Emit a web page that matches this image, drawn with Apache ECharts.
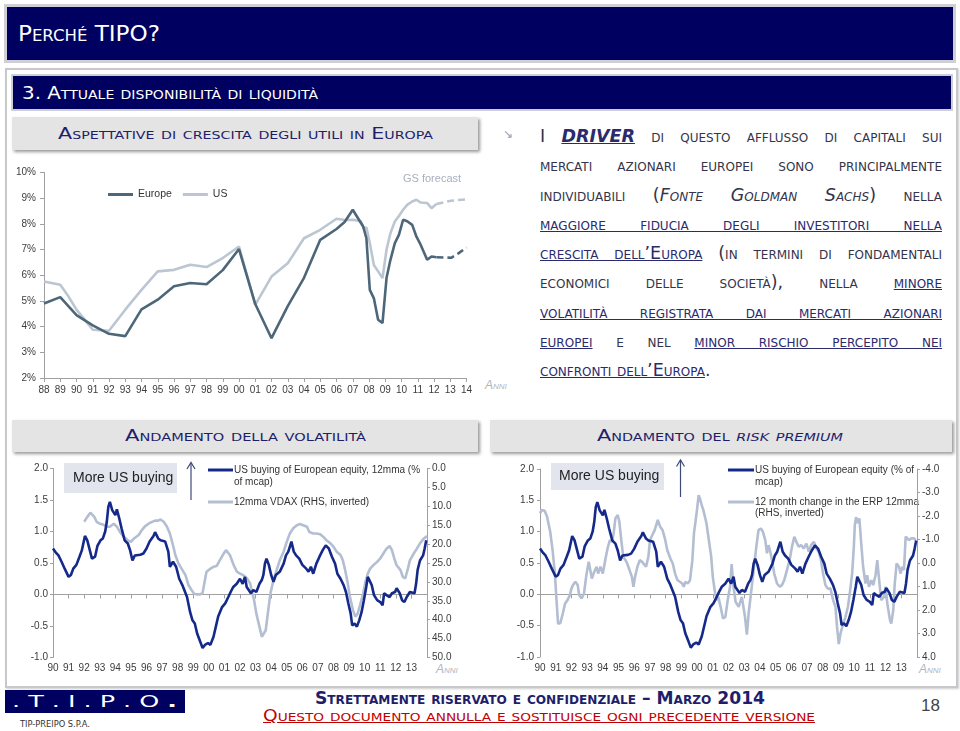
<!DOCTYPE html>
<html><head><meta charset="utf-8">
<script src="https://cdn.jsdelivr.net/npm/echarts/dist/echarts.min.js"></script>
<style>
body{margin:0;width:960px;height:731px;position:relative;overflow:hidden;background:#fff;font-family:'Liberation Sans',Arial,sans-serif}
.abs{position:absolute}
.sc{font-variant:small-caps;white-space:nowrap;line-height:20px}
.hd{font-family:'Liberation Sans Narrow','DejaVu Sans Condensed','Liberation Sans',sans-serif}
.sub{background:#e4e4e4;box-shadow:2px 2px 3px rgba(0,0,0,0.4)}
.para{font-family:'DejaVu Sans',sans-serif;font-size:17.5px;font-variant:small-caps;letter-spacing:0px;color:#34344a;white-space:nowrap;line-height:20px}
.para u{color:#2a2a6c}
.anni{font-style:italic;color:#b0b4c2;font-size:12px}
#c{position:absolute;left:0;top:0;width:960px;height:731px;z-index:5}
</style></head>
<body>
<div class="abs" style="left:4px;top:4px;width:952px;height:59px;background:#cfcfd6"></div>
<div class="abs" style="left:7px;top:7px;width:946px;height:53px;background:#000060"></div>
<div class="abs sc hd" id="t1" style="left:18px;top:24px;font-size:21px;color:#fff">Perché TIPO?</div>

<div class="abs" style="left:5px;top:68px;width:949px;height:616px;border:2px solid #c8c8cc;box-shadow:1px 1px 2px rgba(0,0,0,0.2)"></div>
<div class="abs" style="left:11px;top:74px;width:942px;height:37px;background:#cfcfd6"></div>
<div class="abs" style="left:13px;top:76px;width:938px;height:33px;background:#000060"></div>
<div class="abs sc hd" id="t2" style="left:22px;top:83px;font-size:17px;color:#fff">3. Attuale disponibilità di liquidità</div>

<div class="abs sub" style="left:12px;top:117px;width:466px;height:33px"></div>
<div class="abs sc hd" id="t3" style="left:58px;top:124px;font-size:16px;color:#1e1e6a">Aspettative di crescita degli utili in Europa</div>

<div class="abs sub" style="left:12px;top:420px;width:466px;height:32px"></div>
<div class="abs sc hd" id="t4" style="left:125px;top:426px;font-size:16px;color:#1e1e6a">Andamento della volatilità</div>
<div class="abs sub" style="left:490px;top:420px;width:462px;height:32px"></div>
<div class="abs sc hd" id="t5" style="left:597px;top:426px;font-size:16px;color:#1e1e6a">Andamento del <i>risk premium</i></div>

<div class="abs" style="left:503px;top:127px;font-size:12px;color:#9aa0b4">&#8600;</div>
<div id="para"></div>

<div class="abs sc anni" style="left:485px;top:375px">Anni</div>
<div class="abs sc anni" style="left:436px;top:659px">Anni</div>
<div class="abs sc anni" style="left:919px;top:659px">Anni</div>

<div class="abs" style="left:5px;top:690px;width:180px;height:23px;background:#000060"></div>
<div class="abs hd" id="logo" style="left:12px;top:692px;font-size:16px;line-height:20px;color:#fff;white-space:nowrap">. T . I . P . O <b>.</b></div>
<div class="abs hd" id="tip" style="left:20px;top:718px;font-size:9px;line-height:12px;color:#333;white-space:nowrap">TIP-PREIPO S.P.A.</div>
<div class="abs sc hd" id="f1" style="left:315px;top:688px;font-size:17px;font-weight:bold;color:#1e1e6a">Strettamente riservato e confidenziale – Marzo 2014</div>
<div class="abs sc hd" id="f2" style="left:263px;top:706px;font-size:15px;color:#c00000;text-decoration:underline">Questo documento annulla e sostituisce ogni precedente versione</div>
<div class="abs" style="left:921px;top:696px;font-size:17px;line-height:20px;color:#444;font-family:'Liberation Sans Narrow','Liberation Sans',sans-serif">18</div>

<div id="c"></div>
<script>
// ---------------- DATA ----------------
// Top chart: earnings growth expectations (%)
const europeGrowth = [[1988,4.9],[1989,5.15],[1990,4.45],[1991,4.05],[1992,3.72],[1993,3.63],[1994,4.67],[1995,5.05],[1996,5.57],[1997,5.7],[1998,5.65],[1999,6.2],[2000,7.02],[2001,4.88],[2002,3.55],[2003,4.8],[2004,5.9],[2005,7.38],[2006,7.8],[2006.5,8.07],[2007,8.55],[2007.64,7.9],[2007.84,7.44],[2008.05,5.43],[2008.3,5.1],[2008.56,4.27],[2008.83,4.14],[2009.08,5.9],[2009.32,6.6],[2009.59,7.25],[2009.84,7.57],[2010.1,8.16],[2010.35,8.1],[2010.66,7.96],[2010.92,7.5],[2011.17,7.2],[2011.58,6.6],[2011.85,6.73],[2012.15,6.7]];
const europeForecast = [[2012.15,6.7],[2013.05,6.68],[2013.5,6.85],[2014,7.08]];
const usGrowth = [[1988,5.76],[1989,5.63],[1989.5,5.18],[1990,4.66],[1990.5,4.27],[1991,3.88],[1992,3.84],[1993,4.66],[1994,5.43],[1995,6.15],[1996,6.21],[1997,6.41],[1998,6.32],[1999,6.67],[2000,7.12],[2001,4.85],[2002,5.95],[2003,6.47],[2004,7.44],[2005,7.77],[2006,8.2],[2006.5,8.15],[2007,8.16],[2007.5,8.1],[2007.7,7.8],[2007.84,7.87],[2008.05,7.25],[2008.3,6.4],[2008.56,6.15],[2008.83,5.89],[2009.08,7.0],[2009.32,7.64],[2009.59,8.09],[2009.84,8.31],[2010.1,8.55],[2010.35,8.74],[2010.66,8.87],[2010.92,8.94],[2011.17,8.83],[2011.58,8.81],[2011.85,8.61],[2012.15,8.77]];
const usForecast = [[2012.15,8.77],[2012.6,8.84],[2013.05,8.9],[2013.5,8.93],[2014,8.95]];
const topYTicks = {min:2, max:10, step:1};

// Bottom charts: US buying of European equity (% of mcap, 12mma)
const usBuying = [[1990,0.73],[1990.2,0.66],[1990.35,0.62],[1990.55,0.52],[1990.75,0.41],[1991,0.28],[1991.15,0.31],[1991.3,0.41],[1991.5,0.47],[1991.7,0.6],[1991.85,0.7],[1992.05,0.93],[1992.2,0.86],[1992.5,0.57],[1992.7,0.6],[1992.85,0.77],[1993.05,0.86],[1993.2,0.89],[1993.35,1.0],[1993.45,1.15],[1993.55,1.39],[1993.65,1.47],[1993.8,1.34],[1994,1.26],[1994.1,1.35],[1994.25,1.21],[1994.4,1.05],[1994.6,0.86],[1994.8,0.81],[1994.95,0.7],[1995.1,0.54],[1995.25,0.62],[1995.6,0.63],[1995.8,0.65],[1996,0.73],[1996.2,0.84],[1996.45,0.93],[1996.55,0.99],[1996.75,0.89],[1996.9,0.86],[1997.2,0.84],[1997.4,0.68],[1997.5,0.44],[1997.7,0.52],[1997.9,0.44],[1998.1,0.25],[1998.3,0.15],[1998.6,-0.04],[1998.8,-0.28],[1998.95,-0.41],[1999.1,-0.46],[1999.25,-0.62],[1999.45,-0.75],[1999.6,-0.85],[1999.75,-0.8],[1999.95,-0.77],[2000.1,-0.8],[2000.3,-0.67],[2000.45,-0.51],[2000.6,-0.35],[2000.85,-0.2],[2001.05,-0.14],[2001.25,-0.04],[2001.4,0.04],[2001.57,0.12],[2001.79,0.17],[2002,0.25],[2002.17,0.17],[2002.32,0.28],[2002.43,0.12],[2002.7,0.02],[2002.85,0.07],[2003.05,0.04],[2003.25,0.17],[2003.4,0.23],[2003.5,0.31],[2003.6,0.49],[2003.7,0.57],[2003.85,0.47],[2004,0.31],[2004.15,0.2],[2004.3,0.31],[2004.55,0.36],[2004.8,0.49],[2004.95,0.62],[2005.1,0.68],[2005.3,0.84],[2005.45,0.68],[2005.6,0.62],[2005.8,0.57],[2006,0.47],[2006.25,0.41],[2006.4,0.36],[2006.55,0.44],[2006.7,0.33],[2006.9,0.49],[2007.1,0.6],[2007.3,0.7],[2007.5,0.78],[2007.7,0.73],[2007.9,0.6],[2008.1,0.49],[2008.25,0.33],[2008.45,0.25],[2008.65,0.15],[2008.8,0.04],[2008.95,-0.14],[2009.1,-0.3],[2009.2,-0.49],[2009.35,-0.46],[2009.5,-0.51],[2009.65,-0.41],[2009.8,-0.28],[2009.95,-0.09],[2010.1,0.12],[2010.2,0.28],[2010.3,0.25],[2010.45,0.15],[2010.6,-0.01],[2010.8,-0.09],[2011,-0.12],[2011.15,-0.17],[2011.25,0.02],[2011.4,-0.01],[2011.6,-0.04],[2011.75,0.02],[2011.95,0.04],[2012.05,0.1],[2012.25,0.02],[2012.4,-0.09],[2012.55,-0.12],[2012.7,-0.04],[2012.9,0.04],[2013,0.02],[2013.2,0.02],[2013.3,0.17],[2013.4,0.39],[2013.55,0.54],[2013.75,0.62],[2013.85,0.73],[2013.95,0.86]];
// 12mma VDAX (RHS, inverted)
const vdax = [[1992,14.1],[1992.2,12.8],[1992.4,11.7],[1992.5,11.5],[1992.65,12.8],[1992.8,14.1],[1993,14.6],[1993.2,14.8],[1993.45,15.4],[1993.65,15.4],[1993.9,14.6],[1994.1,15.4],[1994.3,16.8],[1994.5,17.9],[1994.8,19.0],[1995,19.4],[1995.2,18.5],[1995.5,17.6],[1995.7,16.3],[1995.9,15.3],[1996.2,14.4],[1996.55,13.8],[1996.75,13.8],[1996.9,13.5],[1997.1,14.1],[1997.3,15.3],[1997.5,17.2],[1997.7,20.3],[1997.85,22.9],[1998.05,25.1],[1998.25,26.5],[1998.5,28.2],[1998.7,30.9],[1998.9,32.2],[1999.05,33.1],[1999.2,33.3],[1999.45,33.3],[1999.6,32.9],[1999.75,29.5],[1999.85,27.3],[2000.1,26.5],[2000.3,26.0],[2000.5,25.8],[2000.7,24.3],[2000.95,22.5],[2001.1,21.6],[2001.35,22.9],[2001.6,25.6],[2001.8,27.3],[2002,27.8],[2002.2,28.2],[2002.45,29.1],[2002.65,30.4],[2002.75,32.2],[2002.9,34.8],[2003.05,38.4],[2003.25,41.9],[2003.4,44.5],[2003.5,45.0],[2003.65,42.8],[2003.8,37.9],[2003.95,33.1],[2004.15,29.5],[2004.35,26.9],[2004.55,24.3],[2004.8,22.0],[2005,19.4],[2005.2,17.2],[2005.4,15.9],[2005.65,15.0],[2005.85,14.7],[2006.05,15.0],[2006.3,15.4],[2006.45,16.8],[2006.7,17.2],[2006.9,17.2],[2007.15,17.4],[2007.35,18.1],[2007.55,19.0],[2007.8,19.8],[2008,20.7],[2008.2,22.0],[2008.45,22.9],[2008.6,24.3],[2008.75,26.9],[2008.9,30.0],[2009.05,33.9],[2009.25,37.5],[2009.4,39.2],[2009.55,38.4],[2009.7,36.2],[2009.9,33.1],[2010.05,30.0],[2010.2,27.8],[2010.35,26.5],[2010.55,25.6],[2010.8,24.7],[2011,23.8],[2011.2,22.5],[2011.4,21.2],[2011.6,20.5],[2011.75,21.6],[2011.9,23.8],[2012.05,25.6],[2012.3,26.9],[2012.45,28.7],[2012.6,29.1],[2012.75,26.9],[2012.9,24.3],[2013.15,22.5],[2013.35,21.2],[2013.55,19.8],[2013.8,18.5],[2014,17.9]];
// 12 month change in the ERP 12mma (RHS, inverted)
const erpChange = [[1990,-2.11],[1990.1,-2.25],[1990.3,-2.22],[1990.45,-1.97],[1990.65,-1.33],[1990.8,-0.55],[1990.95,0.45],[1991.05,1.58],[1991.15,2.58],[1991.3,2.55],[1991.45,2.15],[1991.6,1.72],[1991.75,1.58],[1991.9,1.37],[1992,1.09],[1992.1,0.94],[1992.25,0.8],[1992.4,0.94],[1992.5,1.37],[1992.65,1.51],[1992.8,1.3],[1992.95,0.52],[1993.1,-0.05],[1993.2,0.3],[1993.3,0.66],[1993.45,0.38],[1993.6,0.16],[1993.7,0.45],[1993.85,0.16],[1994,0.45],[1994.15,-0.12],[1994.3,-0.62],[1994.45,-0.97],[1994.6,-0.9],[1994.7,-1.33],[1994.8,-1.9],[1994.95,-2.04],[1995.05,-1.76],[1995.15,-1.12],[1995.3,-0.26],[1995.45,-0.12],[1995.55,0.02],[1995.7,0.3],[1995.85,0.59],[1995.95,1.01],[1996.05,0.59],[1996.2,0.16],[1996.35,-0.12],[1996.5,-0.05],[1996.6,0.02],[1996.75,0.16],[1996.9,-0.26],[1997,-0.97],[1997.15,-1.19],[1997.3,-1.4],[1997.4,-1.33],[1997.5,-1.83],[1997.65,-1.54],[1997.8,-1.4],[1997.95,-1.05],[1998.1,-0.55],[1998.3,-0.19],[1998.45,0.02],[1998.6,0.45],[1998.75,0.73],[1998.9,0.8],[1999.05,0.87],[1999.15,1.01],[1999.25,0.8],[1999.4,0.87],[1999.55,0.73],[1999.7,-0.12],[1999.8,-1.26],[1999.9,-1.76],[2000,-2.3],[2000.1,-2.89],[2000.2,-2.7],[2000.3,-2.45],[2000.4,-2.25],[2000.6,-1.68],[2000.75,-0.97],[2000.9,-0.26],[2001,0.59],[2001.15,1.3],[2001.25,1.58],[2001.35,1.44],[2001.5,1.87],[2001.65,2.36],[2001.8,2.29],[2001.95,1.58],[2002.1,1.0],[2002.2,0.05],[2002.3,0.9],[2002.45,1.65],[2002.65,1.87],[2002.85,1.44],[2003.05,2.29],[2003.17,3.05],[2003.28,2.15],[2003.43,1.3],[2003.6,0.3],[2003.77,-0.69],[2003.91,-1.4],[2004.06,-1.47],[2004.19,-1.33],[2004.34,-0.97],[2004.45,-0.41],[2004.55,-0.76],[2004.66,-0.48],[2004.77,-0.12],[2004.91,0.45],[2005.09,0.87],[2005.26,1.01],[2005.4,0.94],[2005.55,0.73],[2005.72,0.3],[2005.89,-0.12],[2006.04,-0.69],[2006.19,-1.12],[2006.32,-0.9],[2006.47,-0.69],[2006.62,-0.76],[2006.79,-0.62],[2006.96,-0.83],[2007.11,-0.48],[2007.26,-0.76],[2007.43,-0.9],[2007.6,-0.62],[2007.74,-0.48],[2007.89,-0.12],[2008.02,0.45],[2008.17,0.94],[2008.32,1.09],[2008.49,1.09],[2008.66,1.58],[2008.81,1.87],[2008.91,2.72],[2009.02,3.45],[2009.13,3.0],[2009.3,2.58],[2009.45,2.29],[2009.6,1.87],[2009.72,1.3],[2009.87,0.45],[2009.98,-0.69],[2010.04,-1.6],[2010.12,-1.95],[2010.23,-1.7],[2010.33,-1.9],[2010.45,-0.83],[2010.57,0.16],[2010.72,0.87],[2010.83,0.52],[2010.94,1.01],[2011.09,0.73],[2011.21,0.94],[2011.36,0.52],[2011.47,-0.12],[2011.57,0.59],[2011.72,1.58],[2011.89,1.44],[2012,1.01],[2012.11,1.72],[2012.28,2.43],[2012.36,2.58],[2012.49,2.01],[2012.57,1.01],[2012.7,0.02],[2012.85,0.16],[2012.96,0.45],[2013.06,0.16],[2013.17,0.3],[2013.28,-1.12],[2013.38,-1.12],[2013.49,-0.97],[2013.64,-1.05],[2013.81,-1.05],[2013.91,-0.97]];

// Paragraph text lines
const paraLines = [
 'I <b><i><u>DRIVER</u></i></b> di questo afflusso di capitali sui',
 'mercati azionari europei sono principalmente',
 'individuabili (<i>Fonte Goldman Sachs</i>) nella',
 '<u>maggiore fiducia degli investitori nella</u>',
 '<u>crescita dell’Europa</u> (in termini di fondamentali',
 'economici delle società), nella <u>minore</u>',
 '<u>volatilità registrata dai mercati azionari</u>',
 '<u>europei</u> e nel <u>minor rischio percepito nei</u>',
 '<u>confronti dell’Europa</u>.'
];

// ---------------- TEXT LAYOUT ----------------
function fitW(id, w){
  const el = document.getElementById(id);
  el.style.display='inline-block';
  const r = el.getBoundingClientRect().width;
  el.style.transformOrigin='left center';
  el.style.transform='scaleX('+(w/r).toFixed(4)+')';
}
fitW('t1',142); fitW('t2',296); fitW('t3',375); fitW('t4',241); fitW('t5',246);
fitW('f1',450); fitW('f2',552); fitW('logo',165); fitW('tip',70);

const para = document.getElementById('para');
paraLines.forEach((html,i)=>{
  const d = document.createElement('div');
  d.className='abs para';
  d.style.left='540px';
  d.style.top=(136+29.25*i-10)+'px';
  d.innerHTML=html;
  para.appendChild(d);
  d.style.display='inline-block';
  const w = d.getBoundingClientRect().width;
  if(i<paraLines.length-1){
    const spaces = (d.textContent.match(/ /g)||[]).length;
    const ws = (402-w)/spaces;
    if(ws>=-2){ d.style.wordSpacing=ws.toFixed(2)+'px'; }
    else { d.style.transformOrigin='left center'; d.style.transform='scaleX('+(402/w).toFixed(4)+')'; }
  }
});

// ---------------- CHART ----------------
const chart = echarts.init(document.getElementById('c'));
const lbl = {fontFamily:'Liberation Sans',fontSize:10,color:'#3c3c3c'};
const axLine = {show:true,onZero:false,lineStyle:{color:'#a0a0a0',width:1}};
const yr2 = v => String(Math.round(v)).slice(2);
const yr2b = v => v>=2014 ? '' : String(Math.round(v)).slice(2);
const darkBlue = '#14298a', lightBlue = '#b3bed2';

const option = {
  animation:false,
  backgroundColor:'transparent',
  grid:[
    {left:44, top:172.5, width:422.5, height:205.5},
    {left:53, top:468.5, width:374, height:189},
    {left:540, top:469, width:377, height:188}
  ],
  xAxis:[
    {type:'value', gridIndex:0, min:1988, max:2014, interval:1, axisLine:axLine,
     axisTick:{show:true,length:4,lineStyle:{color:'#a0a0a0'}}, splitLine:{show:false},
     axisLabel:Object.assign({formatter:yr2, margin:7}, lbl)},
    {type:'value', gridIndex:1, position:'bottom', min:1990, max:2014, interval:1, axisLine:{show:false,onZero:false},
     axisTick:{show:false}, splitLine:{show:false}, axisLabel:Object.assign({formatter:yr2b, margin:6}, lbl)},
    {type:'value', gridIndex:1, position:'top', min:1990, max:2014, interval:1,
     axisLine:{show:true,onZero:true,onZeroAxisIndex:1,lineStyle:{color:'#a0a0a0',width:1}},
     axisTick:{show:true,inside:true,length:4,lineStyle:{color:'#a0a0a0'}}, axisLabel:{show:false}, splitLine:{show:false}},
    {type:'value', gridIndex:2, position:'bottom', min:1990, max:2014, interval:1, axisLine:{show:false,onZero:false},
     axisTick:{show:false}, splitLine:{show:false}, axisLabel:Object.assign({formatter:yr2b, margin:6}, lbl)},
    {type:'value', gridIndex:2, position:'top', min:1990, max:2014, interval:1,
     axisLine:{show:true,onZero:true,onZeroAxisIndex:3,lineStyle:{color:'#a0a0a0',width:1}},
     axisTick:{show:true,inside:true,length:4,lineStyle:{color:'#a0a0a0'}}, axisLabel:{show:false}, splitLine:{show:false}}
  ],
  yAxis:[
    {type:'value', gridIndex:0, min:topYTicks.min, max:topYTicks.max, interval:topYTicks.step, axisLine:axLine,
     axisTick:{show:true,length:4,lineStyle:{color:'#a0a0a0'}}, splitLine:{show:false},
     axisLabel:Object.assign({formatter:'{value}%', margin:8}, lbl)},
    {type:'value', gridIndex:1, position:'left', min:-1, max:2, interval:0.5, axisLine:axLine,
     axisTick:{show:true,length:3,lineStyle:{color:'#a0a0a0'}}, splitLine:{show:false},
     axisLabel:Object.assign({formatter:v=>v.toFixed(1), margin:5}, lbl)},
    {type:'value', gridIndex:1, position:'right', min:0, max:50, interval:5, inverse:true, axisLine:axLine,
     axisTick:{show:true,length:3,lineStyle:{color:'#a0a0a0'}}, splitLine:{show:false},
     axisLabel:Object.assign({formatter:v=>v.toFixed(1), margin:5}, lbl)},
    {type:'value', gridIndex:2, position:'left', min:-1, max:2, interval:0.5, axisLine:axLine,
     axisTick:{show:true,length:3,lineStyle:{color:'#a0a0a0'}}, splitLine:{show:false},
     axisLabel:Object.assign({formatter:v=>v.toFixed(1), margin:6}, lbl)},
    {type:'value', gridIndex:2, position:'right', min:-4, max:4, interval:1, inverse:true, axisLine:axLine,
     axisTick:{show:true,length:3,lineStyle:{color:'#a0a0a0'}}, splitLine:{show:false},
     axisLabel:Object.assign({formatter:v=>v.toFixed(1), margin:5}, lbl)}
  ],
  legend:{data:['Europe','US'], left:103, top:184, icon:'rect', itemWidth:25, itemHeight:3, itemGap:11,
    textStyle:{fontFamily:'Liberation Sans',fontSize:10.5,color:'#333'}},
  series:[
    {name:'US', type:'line', xAxisIndex:0, yAxisIndex:0, data:usGrowth, symbol:'none', lineStyle:{color:'#bcc6d2',width:2.6}, itemStyle:{color:'#bcc6d2'}},
    {name:'US forecast', type:'line', xAxisIndex:0, yAxisIndex:0, data:usForecast, symbol:'none', lineStyle:{color:'#bcc6d2',width:2.6,type:[7,4]}},
    {name:'Europe', type:'line', xAxisIndex:0, yAxisIndex:0, data:europeGrowth, symbol:'none', lineStyle:{color:'#4d6779',width:2.6}, itemStyle:{color:'#4d6779'}},
    {name:'Europe forecast', type:'line', xAxisIndex:0, yAxisIndex:0, data:europeForecast, symbol:'none', lineStyle:{color:'#4d6779',width:2.6,type:[7,4]}},
    {name:'12mma VDAX (RHS, inverted)', type:'line', xAxisIndex:1, yAxisIndex:2, data:vdax, symbol:'none', lineStyle:{color:lightBlue,width:2.6}},
    {name:'US buying of European equity, 12mma', type:'line', xAxisIndex:1, yAxisIndex:1, data:usBuying, symbol:'none', lineStyle:{color:darkBlue,width:2.6}},
    {name:'12 month change in the ERP 12mma', type:'line', xAxisIndex:3, yAxisIndex:4, data:erpChange, symbol:'none', lineStyle:{color:lightBlue,width:2.6}},
    {name:'US buying of European equity', type:'line', xAxisIndex:3, yAxisIndex:3, data:usBuying, symbol:'none', lineStyle:{color:darkBlue,width:2.6}}
  ],
  graphic:{elements:[
    {type:'text', left:403, top:173, style:{text:'GS forecast', fill:'#a6b0bc', font:'11px "Liberation Sans"'}},
    // Left bottom annotations
    {type:'rect', shape:{x:64,y:463,width:113,height:30}, style:{fill:'#e2e5ee'}},
    {type:'text', x:73, y:478, style:{text:'More US buying', fill:'#222', font:'14px "Liberation Sans"', verticalAlign:'middle'}},
    {type:'line', shape:{x1:191,y1:500,x2:191,y2:463}, style:{stroke:'#3d4a78',lineWidth:1.2}},
    {type:'polyline', shape:{points:[[187,469],[191,462.5],[195,469]]}, style:{stroke:'#3d4a78',lineWidth:1.2,fill:null}},
    {type:'line', shape:{x1:208,y1:470,x2:233,y2:470}, style:{stroke:darkBlue,lineWidth:3}},
    {type:'text', x:234, y:470, style:{text:'US buying of European equity, 12mma (%', fill:'#333', font:'10px "Liberation Sans"', verticalAlign:'middle'}},
    {type:'text', x:234, y:482, style:{text:'of mcap)', fill:'#333', font:'10px "Liberation Sans"', verticalAlign:'middle'}},
    {type:'line', shape:{x1:208,y1:502,x2:233,y2:502}, style:{stroke:lightBlue,lineWidth:3}},
    {type:'text', x:234, y:502, style:{text:'12mma VDAX (RHS, inverted)', fill:'#333', font:'10px "Liberation Sans"', verticalAlign:'middle'}},
    // Right bottom annotations
    {type:'rect', shape:{x:551,y:463,width:113,height:27}, style:{fill:'#e2e5ee'}},
    {type:'text', x:559, y:476, style:{text:'More US buying', fill:'#222', font:'14px "Liberation Sans"', verticalAlign:'middle'}},
    {type:'line', shape:{x1:680.5,y1:497,x2:680.5,y2:460}, style:{stroke:'#3d4a78',lineWidth:1.2}},
    {type:'polyline', shape:{points:[[676.5,466.5],[680.5,460],[684.5,466.5]]}, style:{stroke:'#3d4a78',lineWidth:1.2,fill:null}},
    {type:'line', shape:{x1:728,y1:470,x2:754,y2:470}, style:{stroke:darkBlue,lineWidth:3}},
    {type:'text', x:755, y:470, style:{text:'US buying of European equity (% of', fill:'#333', font:'10px "Liberation Sans"', verticalAlign:'middle'}},
    {type:'text', x:755, y:482, style:{text:'mcap)', fill:'#333', font:'10px "Liberation Sans"', verticalAlign:'middle'}},
    {type:'line', shape:{x1:728,y1:502,x2:754,y2:502}, style:{stroke:lightBlue,lineWidth:3}},
    {type:'text', x:755, y:502, style:{text:'12 month change in the ERP 12mma', fill:'#333', font:'10px "Liberation Sans"', verticalAlign:'middle'}},
    {type:'text', x:755, y:513, style:{text:'(RHS, inverted)', fill:'#333', font:'10px "Liberation Sans"', verticalAlign:'middle'}}
  ]}
};
chart.setOption(option);
</script>
</body></html>
